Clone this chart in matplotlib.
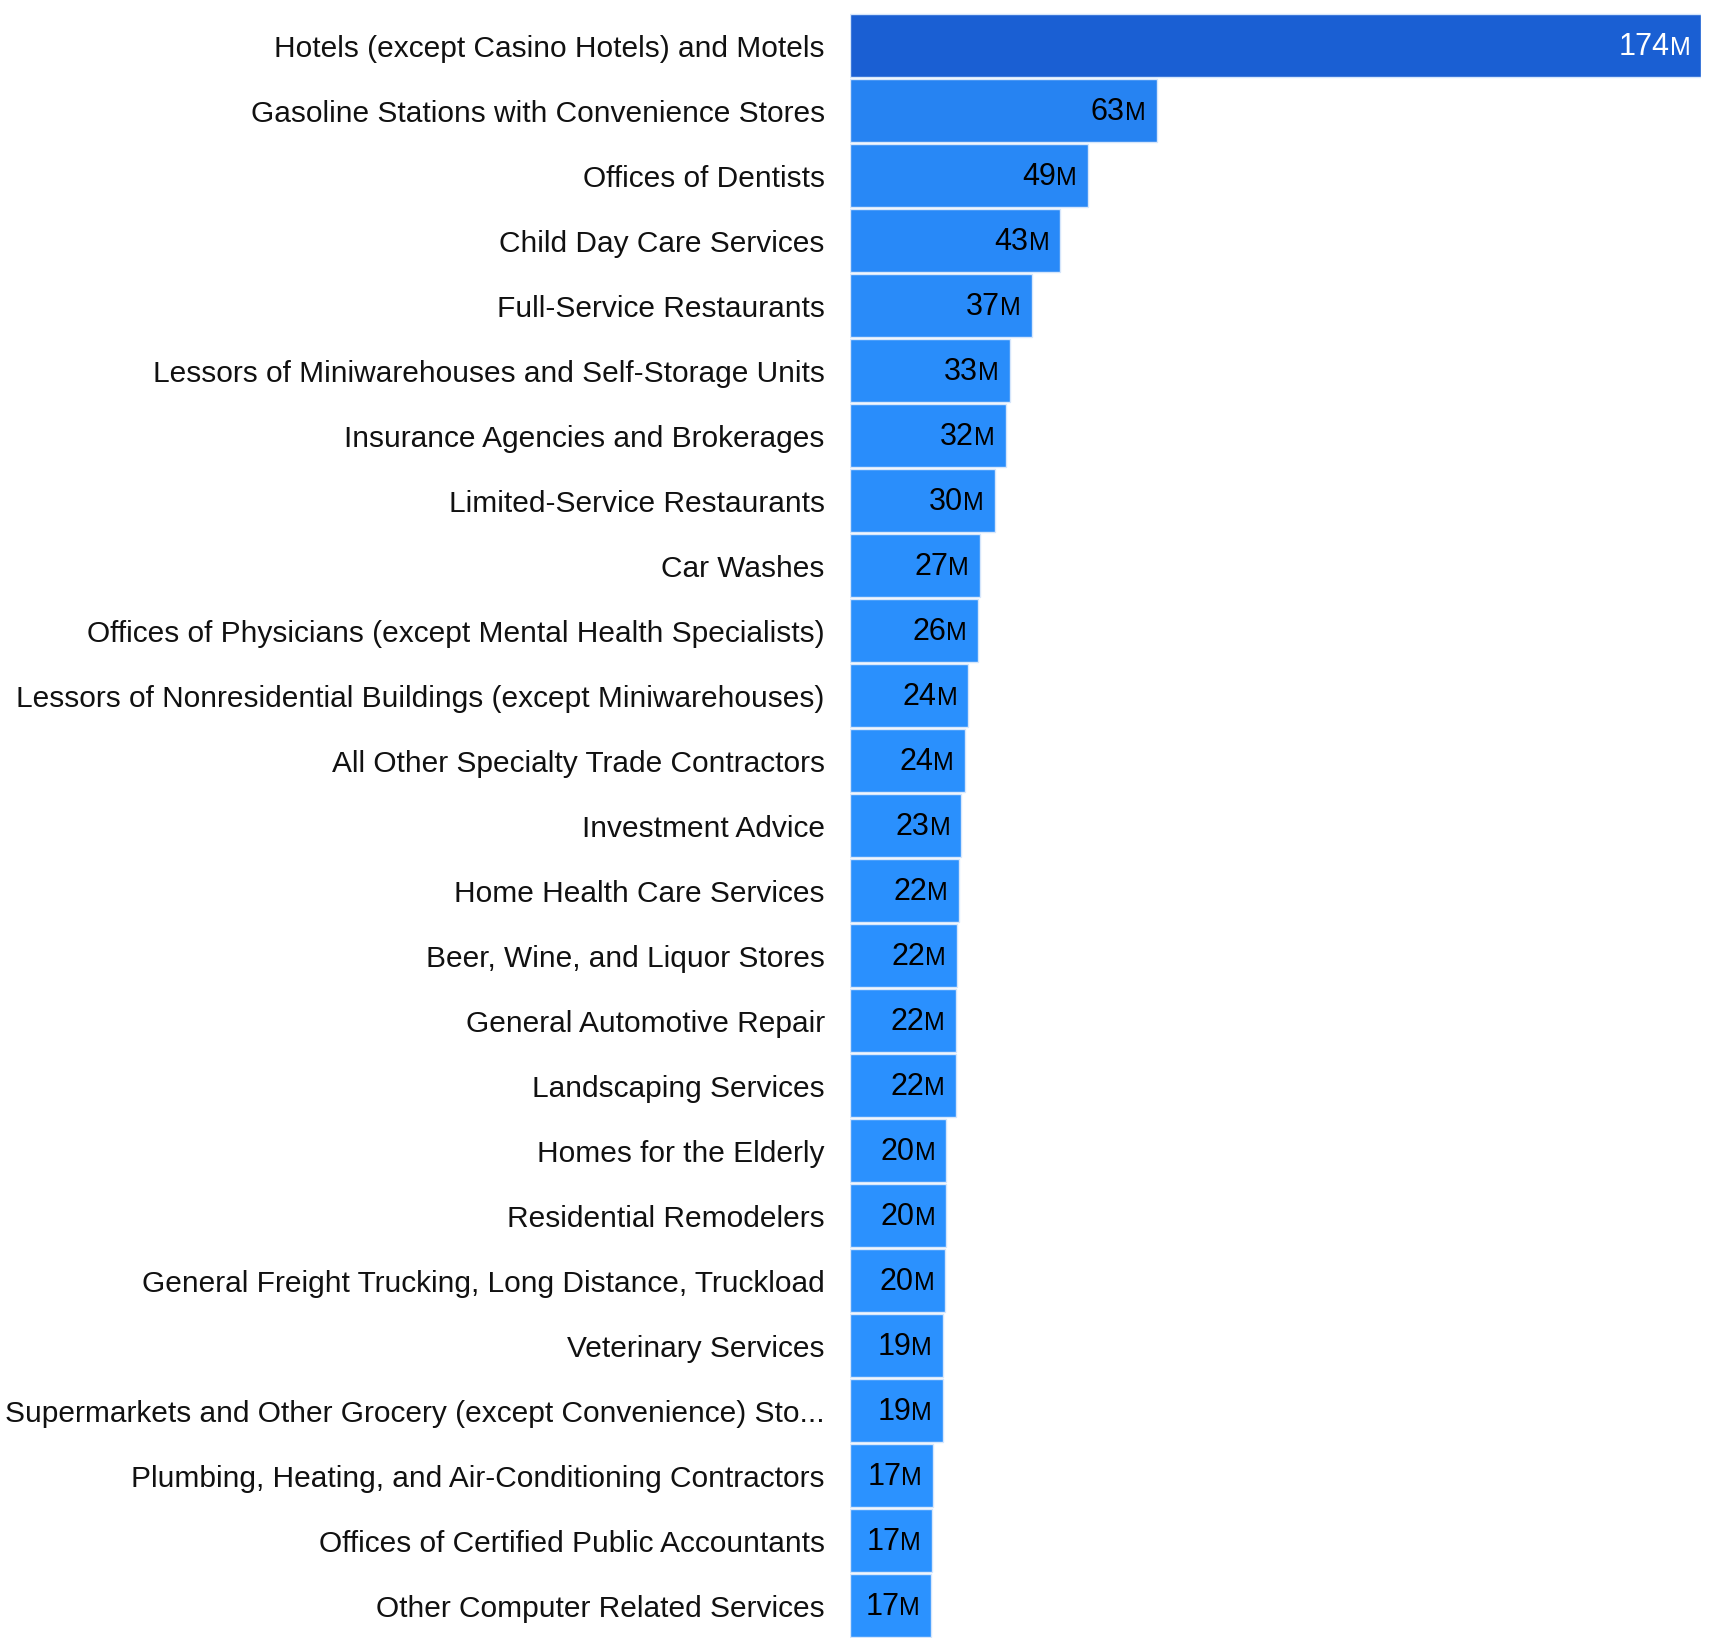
import numpy as np
import matplotlib
matplotlib.use("Agg")
import matplotlib.pyplot as plt
from matplotlib.colors import to_rgb

categories = [
    "Hotels (except Casino Hotels) and Motels",
    "Gasoline Stations with Convenience Stores",
    "Offices of Dentists",
    "Child Day Care Services",
    "Full-Service Restaurants",
    "Lessors of Miniwarehouses and Self-Storage Units",
    "Insurance Agencies and Brokerages",
    "Limited-Service Restaurants",
    "Car Washes",
    "Offices of Physicians (except Mental Health Specialists)",
    "Lessors of Nonresidential Buildings (except Miniwarehouses)",
    "All Other Specialty Trade Contractors",
    "Investment Advice",
    "Home Health Care Services",
    "Beer, Wine, and Liquor Stores",
    "General Automotive Repair",
    "Landscaping Services",
    "Homes for the Elderly",
    "Residential Remodelers",
    "General Freight Trucking, Long Distance, Truckload",
    "Veterinary Services",
    "Supermarkets and Other Grocery (except Convenience) Sto...",
    "Plumbing, Heating, and Air-Conditioning Contractors",
    "Offices of Certified Public Accountants",
    "Other Computer Related Services",
]
values = [174.0, 62.7, 48.6, 43.0, 37.2, 32.7, 31.8, 29.6, 26.6, 26.2, 24.2, 23.5,
          22.8, 22.2, 21.9, 21.7, 21.7, 19.7, 19.7, 19.5, 19.0, 19.0, 17.0, 16.8, 16.6]

plt.rcParams["font.family"] = ["Liberation Sans", "DejaVu Sans"]

fig = plt.figure(figsize=(17.1, 16.5), dpi=100)
ax = fig.add_axes([0.497, 0.007, 0.498, 0.985])

lo, hi = np.array(to_rgb("#2b92ff")), np.array(to_rgb("#1a5fd3"))
vmin, vmax = min(values), max(values)
colors = [tuple(lo + (hi - lo) * (v - vmin) / (vmax - vmin)) for v in values]

y = np.arange(len(categories))
ax.barh(y, values, height=0.97, color=colors, edgecolor="#d6e6fb", linewidth=1)
ax.set_xlim(0, vmax)
ax.set_ylim(len(categories) - 0.5, -0.5)
ax.set_yticks(y)
ax.set_yticklabels(categories, fontsize=21.5, color="#111111")
ax.tick_params(axis="y", length=0, pad=18)
ax.set_xticks([])
for s in ax.spines.values():
    s.set_visible(False)

# value labels: number + small-cap M, right-aligned inside bar
fig.canvas.draw()
renderer = fig.canvas.get_renderer()
for i, v in enumerate(values):
    c = "white" if i == 0 else "black"
    m = ax.annotate("M", xy=(v, i), xytext=(-11, -9), textcoords="offset pixels",
                    ha="right", va="baseline", fontsize=18, color=c)
    w = m.get_window_extent(renderer).width
    ax.annotate(f"{v:.0f}", xy=(v, i), xytext=(-11 - w, -9), textcoords="offset pixels",
                ha="right", va="baseline", fontsize=22, color=c)

fig.savefig("out.png", dpi=100, facecolor="white")
